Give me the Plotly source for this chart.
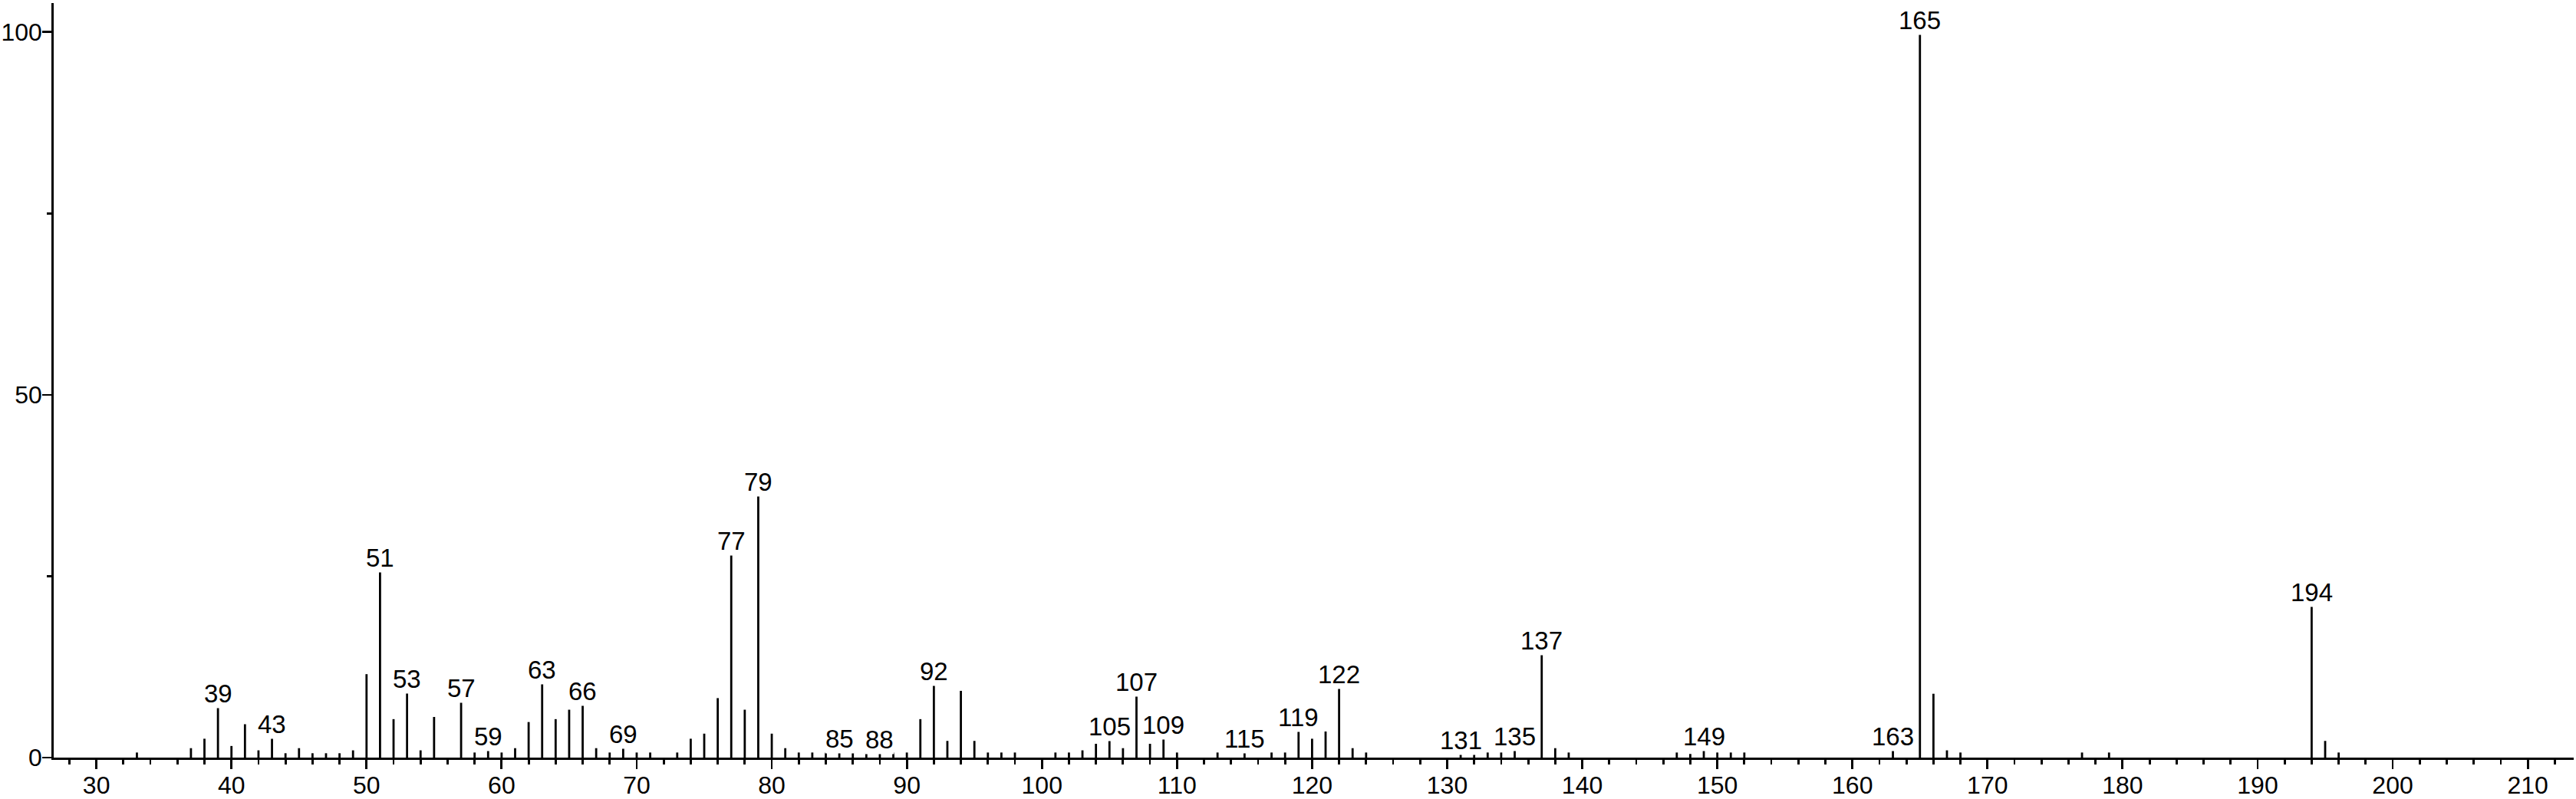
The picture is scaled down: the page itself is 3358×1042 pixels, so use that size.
import plotly.graph_objects as go

mz = [33, 37, 38, 39, 40, 41, 42, 43, 44, 45, 46, 47, 48, 49, 50, 51, 52, 53, 54, 55,
      57, 58, 59, 60, 61, 62, 63, 64, 65, 66, 67, 68, 69, 70, 71, 73, 74, 75, 76, 77,
      78, 79, 80, 81, 82, 83, 84, 85, 86, 87, 88, 89, 90, 91, 92, 93, 94, 95, 96, 97,
      98, 101, 102, 103, 104, 105, 106, 107, 108, 109, 110, 113, 115, 117, 118, 119, 120,
      121, 122, 123, 124, 131, 132, 133, 134, 135, 137, 138, 139, 147, 148, 149, 150,
      151, 152, 163, 165, 166, 167, 168, 177, 179, 194, 195, 196]
intensity = [0.7, 1.3, 2.6, 7.2, 1.6, 4.6, 1.0, 3.0, 0.6, 1.3, 0.6, 0.6, 0.6, 1.0, 11.5, 25.9, 5.3, 9.2, 1.0, 5.6,
             7.9, 0.7, 1.3, 0.7, 1.3, 4.9, 10.5, 5.3, 6.6, 7.5, 1.3, 0.7, 1.6, 0.7, 0.7, 0.7, 2.6, 3.3, 8.2, 28.2,
             6.6, 36.4, 3.3, 1.3, 0.7, 0.7, 0.7, 1.0, 0.7, 0.7, 0.8, 0.7, 0.7, 5.3, 10.2, 2.3, 9.2, 2.3, 0.7, 0.7,
             0.7, 0.7, 0.7, 1.0, 1.9, 2.6, 1.3, 8.8, 1.9, 2.9, 0.7, 0.7, 0.9, 0.7, 0.7, 3.9, 2.6,
             3.6, 9.8, 1.3, 0.7, 0.7, 0.7, 0.7, 0.7, 1.3, 14.5, 1.3, 0.7, 0.7, 0.5, 1.3, 0.7,
             0.7, 0.7, 1.3, 100.0, 8.8, 1.0, 0.7, 0.7, 0.7, 21.1, 2.3, 0.7]
labeled_mz = [39, 43, 51, 53, 57, 59, 63, 66, 69, 77, 79, 85, 88, 92, 105, 107, 109, 115,
              119, 122, 131, 135, 137, 149, 163, 165, 194]

x_tickvals = [30, 40, 50, 60, 70, 80, 90, 100, 110, 120, 130, 140, 150, 160, 170, 180, 190, 200, 210]
y_tickvals = [0, 50, 100]

FONT = "Liberation Sans, Arial, sans-serif"
FS = 33
TFS = 32

xs, ys = [], []
for m, h in zip(mz, intensity):
    xs += [m, m, None]
    ys += [0, h, None]

fig = go.Figure()
fig.add_trace(go.Scatter(x=xs, y=ys, mode="lines",
                         line=dict(color="black", width=2.8),
                         hoverinfo="skip", showlegend=False, cliponaxis=False))

lookup = dict(zip(mz, intensity))
for m in labeled_mz:
    fig.add_annotation(x=m, y=lookup[m], text=str(m), showarrow=False,
                       xanchor="center", yanchor="bottom", yshift=-4,
                       bgcolor="white", borderpad=0,
                       font=dict(family=FONT, size=FS, color="black"))

fig.update_layout(
    width=3358, height=1042,
    margin=dict(l=70, r=3, t=4, b=54, autoexpand=False),
    plot_bgcolor="white", paper_bgcolor="white",
    font=dict(family=FONT, size=FS, color="black"),
    showlegend=False,
)
fig.update_xaxes(range=[26.84, 213.4], showgrid=False, zeroline=False, automargin=False,
                 showline=True, linecolor="black", linewidth=2.8,
                 tickvals=x_tickvals, ticks="outside", ticklen=12, tickwidth=2.8,
                 tickcolor="black", tickfont=dict(family=FONT, size=TFS, color="black"),
                 ticklabelstandoff=-6,
                 minor=dict(dtick=2, tick0=0, ticks="outside", ticklen=6, tickwidth=2.8,
                            tickcolor="black", showgrid=False))
fig.update_yaxes(range=[0, 104.0], showgrid=False, zeroline=False, automargin=False,
                 showline=True, linecolor="black", linewidth=2.8,
                 tickvals=y_tickvals, ticks="outside", ticklen=12, tickwidth=2.8,
                 tickcolor="black", tickfont=dict(family=FONT, size=TFS, color="black"),
                 ticklabelstandoff=-6,
                 minor=dict(tickvals=[25, 75], ticks="outside", ticklen=6, tickwidth=2.8,
                            tickcolor="black", showgrid=False))

fig.write_html("out.html",
               config={"displayModeBar": False, "staticPlot": True},
               post_script="document.body.style.margin='0px';document.body.style.overflow='hidden';")
